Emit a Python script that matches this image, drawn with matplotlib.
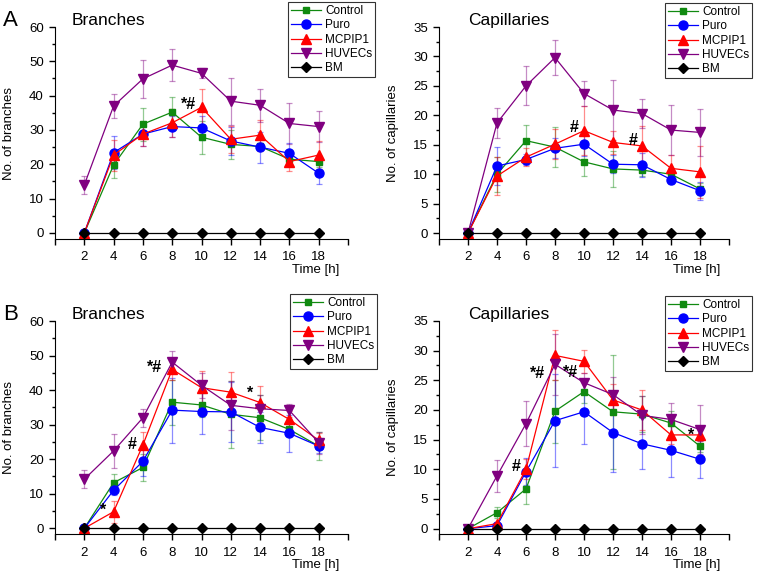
import numpy as np
import matplotlib.pyplot as plt

plt.rcParams['font.family'] = ['Liberation Sans', 'DejaVu Sans']

# Time points [h]
time = [2, 4, 6, 8, 10, 12, 14, 16, 18]
groups = ['Control', 'Puro', 'MCPIP1', 'HUVECs', 'BM']

# Panel A - branches
a_br = {
    'Control': [0, 19.8, 31.7, 35.2, 27.9, 25.8, 25.2, 21.5, 20.8],
    'Puro':    [0, 23.4, 28.8, 31.0, 30.6, 26.8, 25.0, 23.2, 17.4],
    'MCPIP1':  [0, 22.7, 28.8, 32.1, 36.6, 27.3, 28.5, 20.8, 22.7],
    'HUVECs':  [14.0, 37.0, 44.9, 48.9, 46.5, 38.4, 37.2, 31.9, 31.0],
    'BM':      [0, 0, 0, 0, 0, 0, 0, 0, 0],
}
a_br_err = {
    'Control': [0, 3.8, 4.8, 4.4, 4.8, 4.2, 1.0, 1.5, 1.5],
    'Puro':    [0, 4.9, 3.5, 3.0, 3.5, 4.0, 4.5, 3.0, 3.2],
    'MCPIP1':  [0, 4.5, 3.5, 4.0, 5.4, 4.0, 4.5, 2.8, 4.0],
    'HUVECs':  [2.6, 3.5, 5.5, 4.6, 1.5, 6.8, 4.8, 6.0, 4.6],
    'BM':      [0, 0, 0, 0, 0, 0, 0, 0, 0],
}

# Panel A - capillaries
a_cap = {
    'Control': [0, 10.0, 15.7, 14.6, 12.1, 10.9, 10.7, 10.0, 7.5],
    'Puro':    [0, 11.4, 12.5, 14.4, 15.1, 11.7, 11.6, 9.1, 7.2],
    'MCPIP1':  [0, 9.7, 12.9, 15.1, 17.4, 15.4, 14.8, 11.0, 10.4],
    'HUVECs':  [0, 18.7, 25.0, 29.8, 23.7, 20.9, 20.3, 17.5, 17.1],
    'BM':      [0, 0, 0, 0, 0, 0, 0, 0, 0],
}
a_cap_err = {
    'Control': [0, 3.0, 2.6, 3.4, 2.4, 3.0, 1.0, 1.0, 1.0],
    'Puro':    [0, 3.3, 0.9, 1.7, 2.0, 1.5, 2.0, 0.8, 1.5],
    'MCPIP1':  [0, 3.3, 1.5, 2.5, 4.2, 2.0, 3.4, 2.3, 4.4],
    'HUVECs':  [0, 2.6, 3.3, 3.0, 2.2, 5.1, 2.5, 4.3, 4.0],
    'BM':      [0, 0, 0, 0, 0, 0, 0, 0, 0],
}

# Panel B - branches
b_br = {
    'Control': [0, 13.2, 17.6, 36.5, 35.7, 33.0, 32.0, 28.6, 23.8],
    'Puro':    [0, 11.0, 19.4, 34.2, 33.8, 33.7, 29.2, 27.5, 23.8],
    'MCPIP1':  [0, 4.8, 24.1, 46.0, 40.7, 39.4, 36.4, 31.5, 25.5],
    'HUVECs':  [14.2, 22.4, 32.0, 48.1, 41.4, 35.6, 34.6, 34.1, 24.8],
    'BM':      [0, 0, 0, 0, 0, 0, 0, 0, 0],
}
b_br_err = {
    'Control': [0, 2.5, 3.9, 6.5, 3.5, 9.7, 6.5, 2.0, 4.0],
    'Puro':    [0, 1.5, 4.4, 9.4, 6.6, 8.7, 4.5, 5.4, 2.0],
    'MCPIP1':  [0, 3.2, 3.9, 3.0, 4.8, 5.8, 4.8, 2.5, 2.0],
    'HUVECs':  [2.6, 5.0, 2.6, 3.1, 3.6, 7.1, 3.9, 1.9, 3.2],
    'BM':      [0, 0, 0, 0, 0, 0, 0, 0, 0],
}

# Panel B - capillaries
b_cap = {
    'Control': [0, 2.7, 6.7, 19.8, 23.1, 19.7, 19.3, 17.8, 13.9],
    'Puro':    [0, 0.5, 9.6, 18.2, 19.7, 16.2, 14.3, 13.2, 11.7],
    'MCPIP1':  [0, 0.85, 10.0, 29.2, 28.2, 21.7, 20.0, 15.8, 15.8],
    'HUVECs':  [0, 8.9, 17.7, 27.7, 24.6, 22.6, 19.1, 18.4, 16.7],
    'BM':      [0, 0, 0, 0, 0, 0, 0, 0, 0],
}
b_cap_err = {
    'Control': [0, 0.9, 2.6, 5.3, 2.0, 9.6, 3.0, 2.0, 1.0],
    'Puro':    [0, 0.3, 2.3, 7.8, 5.5, 6.6, 4.3, 4.5, 3.1],
    'MCPIP1':  [0, 0.3, 1.7, 4.2, 1.9, 2.6, 3.4, 1.5, 1.0],
    'HUVECs':  [0, 2.7, 3.8, 5.1, 1.7, 3.0, 3.2, 2.8, 4.2],
    'BM':      [0, 0, 0, 0, 0, 0, 0, 0, 0],
}

# significance marks: (x, y, text)
a_br_marks = [(9.1, 37.5, '*#')]
a_cap_marks = [(9.3, 17.9, '#'), (13.4, 15.8, '#')]
b_br_marks = [(6.8, 46.5, '*#'), (5.3, 24.3, '#'), (13.3, 39.0, '*'), (3.3, 5.3, '*')]
b_cap_marks = [(6.8, 26.1, '*#'), (9.1, 26.4, '*#'), (5.3, 10.4, '#'), (17.4, 15.8, '*')]

colors = {'Control': '#108a10', 'Puro': '#0000ff', 'MCPIP1': '#ff0000',
          'HUVECs': '#800080', 'BM': '#000000'}
markers = {'Control': 's', 'Puro': 'o', 'MCPIP1': '^', 'HUVECs': 'v', 'BM': 'D'}
msizes = {'Control': 5, 'Puro': 6.5, 'MCPIP1': 7, 'HUVECs': 7, 'BM': 5.5}

W, H = 762, 572
fig = plt.figure(figsize=(W / 100, H / 100), dpi=100)


def panel(left, top, right, bottom, data, err, ymax, ybottom, ylabel, title,
          title_x, marks, leg_box, letter=None):
    ax = fig.add_axes([left / W, 1 - bottom / H, (right - left) / W, (bottom - top) / H])
    for g in groups:
        ax.errorbar(time, data[g], yerr=err[g], fmt='none', ecolor=colors[g],
                    alpha=0.45, elinewidth=0.9, capsize=2.5, capthick=0.9)
    for g in groups:
        ax.plot(time, data[g], color=colors[g], lw=0.9, marker=markers[g],
                ms=msizes[g], mec=colors[g], label=g)
    for x, y, t in marks:
        ax.text(x, y, t, ha='center', va='center', fontsize=11.5, fontweight='bold')
    ax.set_xlim(0, 20)
    ax.set_ylim(ybottom, ymax)
    ax.set_xticks(range(0, 21, 2))
    ax.set_xticklabels([''] + [str(t) for t in time] + [''])
    step = 10 if ymax == 60 else 5
    ax.set_yticks(np.arange(0, ymax + 1, step))
    ax.set_yticks(np.arange(step / 2, ymax, step), minor=True)
    ax.tick_params(axis='both', which='major', direction='out', length=4,
                   width=1, labelsize=9.5)
    ax.tick_params(axis='x', which='major', pad=5)
    ax.tick_params(axis='y', which='major', pad=4)
    ax.tick_params(axis='y', which='minor', direction='out', length=2, width=1)
    ax.spines['top'].set_visible(False)
    ax.spines['right'].set_visible(False)
    ax.set_ylabel(ylabel, fontsize=9.5)
    ax.yaxis.set_label_coords(-40 / (right - left), 0.5)
    ax.text(0.97, -31 / (bottom - top), 'Time [h]', transform=ax.transAxes,
            ha='right', va='center', fontsize=9.5)
    ax.text(title_x, 1 + 2 / (bottom - top), title, transform=ax.transAxes,
            ha='left', va='baseline', fontsize=12.5)
    leg = ax.legend(loc='upper right', bbox_to_anchor=leg_box,
                    bbox_transform=fig.transFigure,
                    fontsize=8.5, frameon=True, fancybox=False,
                    borderpad=0.25, labelspacing=0.2, handlelength=2.5,
                    handletextpad=0.35, borderaxespad=0.0)
    leg.get_frame().set_edgecolor('black')
    leg.get_frame().set_linewidth(0.8)
    if letter:
        fig.text(3 / W, 1 - (top - 6) / H, letter, fontsize=16,
                 ha='left', va='center')
    return ax


panel(55, 27, 348, 239, a_br, a_br_err, 60, -1.75,
      'No. of branches', 'Branches', 0.058, a_br_marks,
      (375 / W, 1 - 2 / H), 'A')
panel(439, 27, 729, 239, a_cap, a_cap_err, 35, -1.0,
      'No. of capillaries', 'Capillaries', 0.1, a_cap_marks,
      (752 / W, 1 - 3 / H))
panel(55, 321, 348, 534, b_br, b_br_err, 60, -1.65,
      'No. of branches', 'Branches', 0.058, b_br_marks,
      (377 / W, 1 - 294 / H), 'B')
panel(439, 321, 729, 534, b_cap, b_cap_err, 35, -0.9,
      'No. of capillaries', 'Capillaries', 0.1, b_cap_marks,
      (752 / W, 1 - 296 / H))

fig.savefig('out.png', dpi=100)
